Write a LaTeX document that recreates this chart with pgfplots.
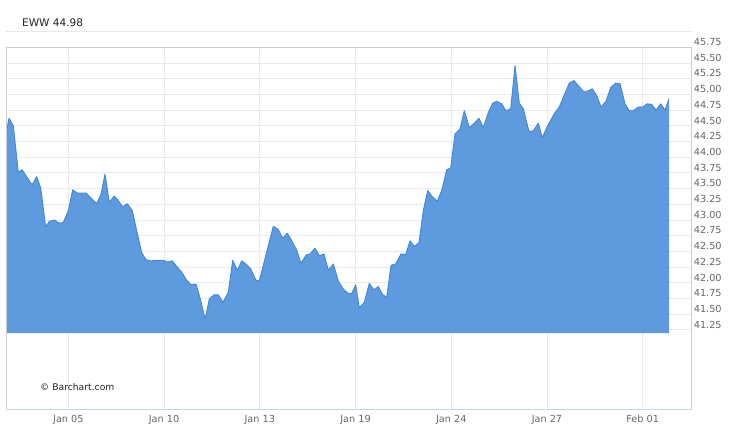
\documentclass[border=0pt]{standalone}
\usepackage{pgfplots}
\pgfplotsset{compat=1.18}
\usepackage{pgfplotstable}
\usepgfplotslibrary{fillbetween}
\usepackage{fontspec}
\setmainfont{DejaVu Sans}
\definecolor{areablue}{RGB}{77,144,218}
\definecolor{lineblue}{RGB}{66,134,214}
\definecolor{gridgray}{RGB}{234,234,234}
\definecolor{framegray}{RGB}{204,204,204}
\definecolor{frameblue}{RGB}{195,214,236}
\definecolor{labelgray}{RGB}{102,102,102}
\definecolor{titlecol}{RGB}{34,34,34}
\definecolor{sepgray}{RGB}{232,232,232}

% trading-day index: Jan 03 = 0, Jan 05 = 2, ..., Feb 01 = 20
\pgfplotstableread{
x y
0.056 44.40
0.141 44.62
0.276 44.50
0.432 43.76
0.548 43.80
0.696 43.69
0.862 43.56
1.009 43.69
1.134 43.51
1.291 42.89
1.404 42.98
1.561 43.00
1.717 42.95
1.843 42.96
2.000 43.15
2.137 43.48
2.282 43.43
2.554 43.43
2.889 43.26
3.024 43.41
3.150 43.73
3.284 43.28
3.432 43.38
3.535 43.33
3.704 43.21
3.848 43.26
4.005 43.15
4.143 42.83
4.300 42.48
4.434 42.37
4.560 42.35
4.977 42.36
5.102 42.33
5.259 42.35
5.397 42.26
5.553 42.17
5.710 42.04
5.845 41.97
6.001 41.98
6.149 41.72
6.284 41.42
6.418 41.74
6.566 41.81
6.700 41.81
6.848 41.69
7.014 41.85
7.152 42.36
7.296 42.20
7.434 42.35
7.590 42.29
7.716 42.22
7.882 42.04
7.985 42.03
8.424 42.90
8.581 42.85
8.719 42.71
8.863 42.79
9.001 42.67
9.157 42.52
9.292 42.31
9.449 42.44
9.574 42.46
9.731 42.55
9.866 42.43
10.013 42.46
10.148 42.20
10.304 42.30
10.461 42.03
10.618 41.90
10.774 41.83
10.881 41.83
11.006 41.97
11.119 41.60
11.276 41.69
11.432 41.99
11.580 41.89
11.714 41.94
11.852 41.81
11.978 41.77
12.113 42.28
12.260 42.30
12.426 42.46
12.573 42.45
12.708 42.67
12.843 42.58
12.990 42.64
13.125 43.15
13.263 43.47
13.407 43.37
13.563 43.30
13.701 43.47
13.858 43.80
13.983 43.83
14.118 44.37
14.275 44.45
14.410 44.74
14.566 44.47
14.723 44.54
14.870 44.62
15.005 44.47
15.162 44.71
15.300 44.86
15.425 44.89
15.582 44.85
15.717 44.74
15.864 44.77
15.999 45.46
16.133 44.86
16.259 44.77
16.437 44.41
16.572 44.42
16.729 44.54
16.854 44.31
16.992 44.47
17.149 44.62
17.252 44.71
17.387 44.80
17.534 44.98
17.700 45.18
17.848 45.22
17.982 45.14
18.139 45.05
18.264 45.05
18.421 45.09
18.559 44.98
18.694 44.80
18.850 44.89
18.998 45.11
19.154 45.18
19.289 45.17
19.446 44.85
19.581 44.74
19.706 44.74
19.862 44.80
20.001 44.80
20.145 44.85
20.283 44.84
20.417 44.75
20.564 44.85
20.699 44.75
20.825 44.93
}\pricedata

\begin{document}
\begin{tikzpicture}
\begin{axis}[
  at={(6.3pt,23pt)}, anchor=south west,
  scale only axis, width=685.4pt, height=362.7pt,
  xmin=0.056, xmax=21.536, ymin=39.975, ymax=45.75,
  axis line style={draw=none},
  clip=false,
  xtick={2,5,8,11,14,17,20},
  xticklabels={Jan 05,Jan 10,Jan 13,Jan 19,Jan 24,Jan 27,Feb 01},
  ytick={41.25,41.5,41.75,42,42.25,42.5,42.75,43,43.25,43.5,43.75,44,44.25,44.5,44.75,45,45.25,45.5,45.75},
  yticklabel pos=right,
  major tick length=0pt,
  tick style={draw=none},
  grid=major,
  major grid style={draw=gridgray, line width=0.9pt},
  yticklabel style={/pgf/number format/fixed, /pgf/number format/fixed zerofill,
    /pgf/number format/precision=2, /pgf/number format/assume math mode=true,
    anchor=west, inner sep=0pt, xshift=2pt, yshift=5.3pt,
    font=\fontsize{9.7}{11}\selectfont, text=labelgray},
  xticklabel style={anchor=north, inner sep=0pt, yshift=-5pt,
    font=\fontsize{9.7}{11}\selectfont, text=labelgray},
]
\addplot[name path=price, draw=none] table[x=x,y=y] {\pricedata};
\addplot[name path=base, draw=none] coordinates {(0.056,41.2) (20.825,41.2)};
\addplot[areablue, fill opacity=0.9, draw=none] fill between[of=price and base];
\addplot[lineblue, line width=0.9pt, line join=round] table[x=x,y=y] {\pricedata};
\draw[framegray, line width=1pt] (rel axis cs:0,0) -- (rel axis cs:0,1) -- (rel axis cs:1,1) -- (rel axis cs:1,0);
\draw[frameblue, line width=1pt] (rel axis cs:0,0) -- (rel axis cs:1,0);
\end{axis}
\draw[sepgray, line width=0.9pt] (6.3pt,401.7pt) -- (692pt,401.7pt);
\node[anchor=west, inner sep=0pt, text=titlecol, font=\fontsize{10.5}{12}\selectfont] at (22pt,410.3pt) {EWW 44.98};
\node[anchor=west, inner sep=0pt, text=titlecol, font=\fontsize{9.2}{11}\selectfont] at (40pt,46.3pt) {© Barchart.com};
\path (0pt,0pt) rectangle (750pt,433pt);
\end{tikzpicture}
\end{document}
